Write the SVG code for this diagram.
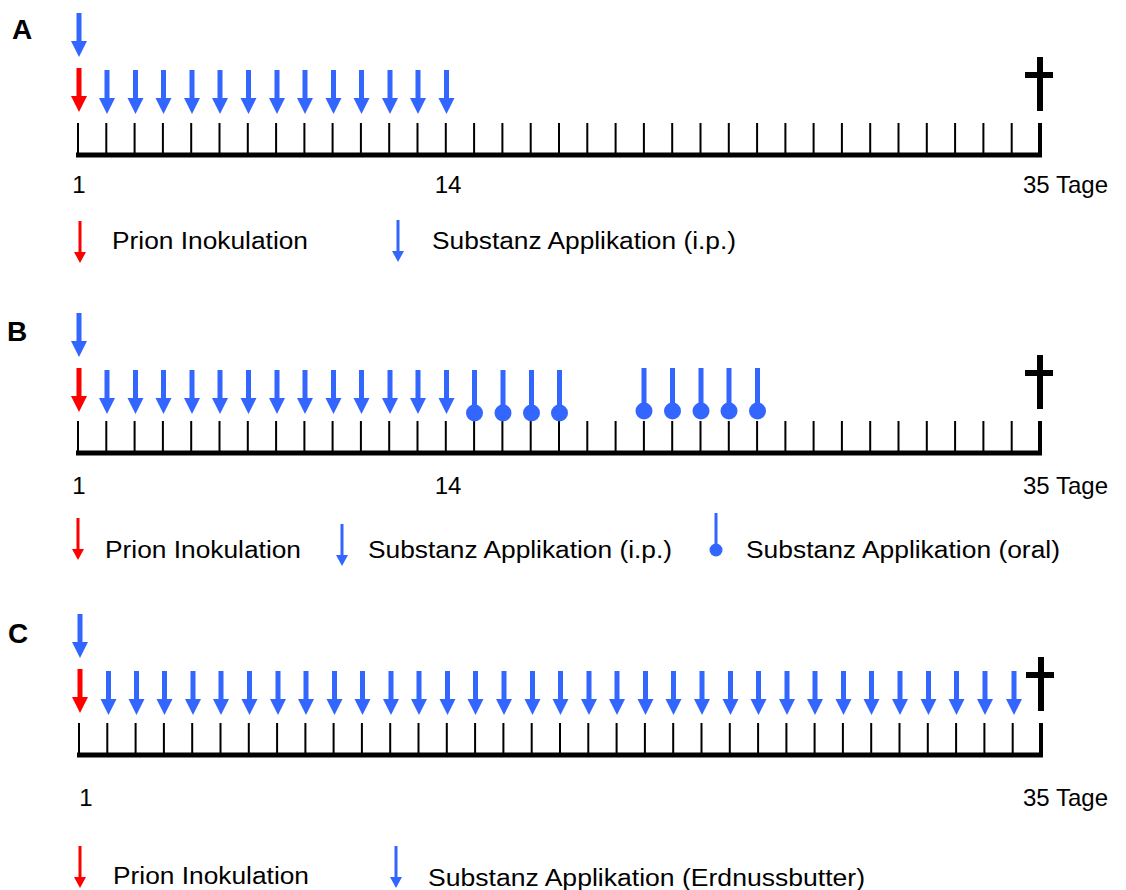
<svg xmlns="http://www.w3.org/2000/svg" xmlns:xlink="http://www.w3.org/1999/xlink" width="1126" height="890" viewBox="0 0 1126 890">
<style>
.t{font-family:"Liberation Sans",Arial,sans-serif;fill:#000}
.num{font-size:24px}
.leg{font-size:23px}
.pl{font-size:28px;font-weight:bold}
.tick{stroke:#000;stroke-width:2;fill:none}
.base{stroke:#000;stroke-width:5;fill:none}
.end{stroke:#000;stroke-width:4;fill:none}
.blue{fill:#3366FF}
.red{fill:#FF0000}
.cross{fill:#000}
</style>
<defs>
<path id="arr" d="M-2.5,0H2.5V28H8L0,44L-8,28H-2.5Z"/>
<path id="larr" d="M-1.5,0H1.5V31H6L0,42L-6,31H-1.5Z"/>
<g id="oral"><rect x="-2.5" y="0" width="5" height="43"/><circle cx="0" cy="43" r="8.5"/></g>
<g id="loral"><rect x="-1.5" y="0" width="3" height="36"/><circle cx="0" cy="37" r="6.5"/></g>
<path id="ticks" class="tick" d="M78,123V155M106.3,123V155M134.6,123V155M162.9,123V155M191.2,123V155M219.5,123V155M247.8,123V155M276.1,123V155M304.4,123V155M332.6,123V155M360.9,123V155M389.2,123V155M417.5,123V155M445.8,123V155M474.1,123V155M502.4,123V155M530.7,123V155M559,123V155M587.3,123V155M615.6,123V155M643.9,123V155M672.2,123V155M700.5,123V155M728.8,123V155M757.1,123V155M785.4,123V155M813.6,123V155M841.9,123V155M870.2,123V155M898.5,123V155M926.8,123V155M955.1,123V155M983.4,123V155M1011.7,123V155"/>
<g id="axis">
<use xlink:href="#ticks"/>
<path class="base" d="M76,155H1042"/>
<path class="end" d="M1040,123V155"/>
<rect class="cross" x="1037" y="57" width="6" height="54"/>
<rect class="cross" x="1025" y="72" width="28" height="6"/>
</g>
</defs>

<g id="panelA">
<text class="t pl" x="12" y="39">A</text>
<use xlink:href="#axis"/>
<use xlink:href="#arr" class="blue" x="79" y="13"/>
<use xlink:href="#arr" class="red" x="79" y="68"/>
<g class="blue">
<use xlink:href="#arr" x="107" y="70"/><use xlink:href="#arr" x="135.5" y="70"/><use xlink:href="#arr" x="163.5" y="70"/><use xlink:href="#arr" x="192" y="70"/><use xlink:href="#arr" x="220" y="70"/><use xlink:href="#arr" x="248.5" y="70"/><use xlink:href="#arr" x="277" y="70"/><use xlink:href="#arr" x="305" y="70"/><use xlink:href="#arr" x="333.5" y="70"/><use xlink:href="#arr" x="361.5" y="70"/><use xlink:href="#arr" x="390" y="70"/><use xlink:href="#arr" x="418" y="70"/><use xlink:href="#arr" x="446.5" y="70"/>
</g>
<text class="t num" x="79" y="193" text-anchor="middle">1</text>
<text class="t num" x="448" y="193" text-anchor="middle">14</text>
<text class="t num" x="1023" y="193" textLength="85" lengthAdjust="spacingAndGlyphs">35 Tage</text>
</g>
<g id="legendA">
<use xlink:href="#larr" class="red" x="80" y="221"/>
<text class="t leg" x="112" y="249" textLength="196" lengthAdjust="spacingAndGlyphs">Prion Inokulation</text>
<use xlink:href="#larr" class="blue" x="398" y="220"/>
<text class="t leg" x="432" y="249" textLength="304" lengthAdjust="spacingAndGlyphs">Substanz Applikation (i.p.)</text>
</g>

<g id="panelB">
<text class="t pl" x="7" y="341">B</text>
<g transform="translate(0,298)">
<use xlink:href="#axis"/>
<use xlink:href="#arr" class="blue" x="79" y="15"/>
<use xlink:href="#arr" class="red" x="79" y="70"/>
<g class="blue">
<use xlink:href="#arr" x="107" y="72"/><use xlink:href="#arr" x="135.5" y="72"/><use xlink:href="#arr" x="163.5" y="72"/><use xlink:href="#arr" x="192" y="72"/><use xlink:href="#arr" x="220" y="72"/><use xlink:href="#arr" x="248.5" y="72"/><use xlink:href="#arr" x="277" y="72"/><use xlink:href="#arr" x="305" y="72"/><use xlink:href="#arr" x="333.5" y="72"/><use xlink:href="#arr" x="361.5" y="72"/><use xlink:href="#arr" x="390" y="72"/><use xlink:href="#arr" x="418" y="72"/><use xlink:href="#arr" x="446.5" y="72"/>
<use xlink:href="#oral" x="474.5" y="72"/><use xlink:href="#oral" x="503" y="72"/><use xlink:href="#oral" x="531.5" y="72"/><use xlink:href="#oral" x="559.5" y="72"/>
<use xlink:href="#oral" x="644" y="70"/><use xlink:href="#oral" x="672.5" y="70"/><use xlink:href="#oral" x="701" y="70"/><use xlink:href="#oral" x="729" y="70"/><use xlink:href="#oral" x="757.5" y="70"/>
</g>
</g>
<text class="t num" x="79" y="494" text-anchor="middle">1</text>
<text class="t num" x="448" y="494" text-anchor="middle">14</text>
<text class="t num" x="1023" y="494" textLength="85" lengthAdjust="spacingAndGlyphs">35 Tage</text>
</g>
<g id="legendB">
<use xlink:href="#larr" class="red" x="78" y="518"/>
<text class="t leg" x="105" y="558" textLength="196" lengthAdjust="spacingAndGlyphs">Prion Inokulation</text>
<use xlink:href="#larr" class="blue" x="342" y="524"/>
<text class="t leg" x="368" y="558" textLength="304" lengthAdjust="spacingAndGlyphs">Substanz Applikation (i.p.)</text>
<use xlink:href="#loral" class="blue" x="716" y="513"/>
<text class="t leg" x="746" y="558" textLength="314" lengthAdjust="spacingAndGlyphs">Substanz Applikation (oral)</text>
</g>

<g id="panelC">
<text class="t pl" x="8" y="643">C</text>
<g transform="translate(1,600)">
<use xlink:href="#axis"/>
<use xlink:href="#arr" class="blue" x="79" y="14"/>
<use xlink:href="#arr" class="red" x="79" y="69"/>
<g class="blue">
<use xlink:href="#arr" x="107.5" y="71"/><use xlink:href="#arr" x="135.5" y="71"/><use xlink:href="#arr" x="163.5" y="71"/><use xlink:href="#arr" x="192" y="71"/><use xlink:href="#arr" x="220" y="71"/><use xlink:href="#arr" x="248.5" y="71"/><use xlink:href="#arr" x="277" y="71"/><use xlink:href="#arr" x="305" y="71"/><use xlink:href="#arr" x="333.5" y="71"/><use xlink:href="#arr" x="361.5" y="71"/><use xlink:href="#arr" x="390" y="71"/><use xlink:href="#arr" x="418" y="71"/><use xlink:href="#arr" x="446.5" y="71"/><use xlink:href="#arr" x="474.5" y="71"/><use xlink:href="#arr" x="503" y="71"/><use xlink:href="#arr" x="531.5" y="71"/><use xlink:href="#arr" x="559.5" y="71"/><use xlink:href="#arr" x="588" y="71"/><use xlink:href="#arr" x="616" y="71"/><use xlink:href="#arr" x="644.5" y="71"/><use xlink:href="#arr" x="672.5" y="71"/><use xlink:href="#arr" x="701" y="71"/><use xlink:href="#arr" x="729.5" y="71"/><use xlink:href="#arr" x="757.5" y="71"/><use xlink:href="#arr" x="786" y="71"/><use xlink:href="#arr" x="814" y="71"/><use xlink:href="#arr" x="842.5" y="71"/><use xlink:href="#arr" x="870.5" y="71"/><use xlink:href="#arr" x="899" y="71"/><use xlink:href="#arr" x="927.5" y="71"/><use xlink:href="#arr" x="955.5" y="71"/><use xlink:href="#arr" x="984" y="71"/><use xlink:href="#arr" x="1013" y="71"/>
</g>
</g>
<text class="t num" x="86" y="806" text-anchor="middle">1</text>
<text class="t num" x="1023" y="806" textLength="85" lengthAdjust="spacingAndGlyphs">35 Tage</text>
</g>
<g id="legendC">
<use xlink:href="#larr" class="red" x="80" y="846"/>
<text class="t leg" x="113" y="884" textLength="196" lengthAdjust="spacingAndGlyphs">Prion Inokulation</text>
<use xlink:href="#larr" class="blue" x="396" y="846"/>
<text class="t leg" x="428" y="886" textLength="437" lengthAdjust="spacingAndGlyphs">Substanz Applikation (Erdnussbutter)</text>
</g>
</svg>
